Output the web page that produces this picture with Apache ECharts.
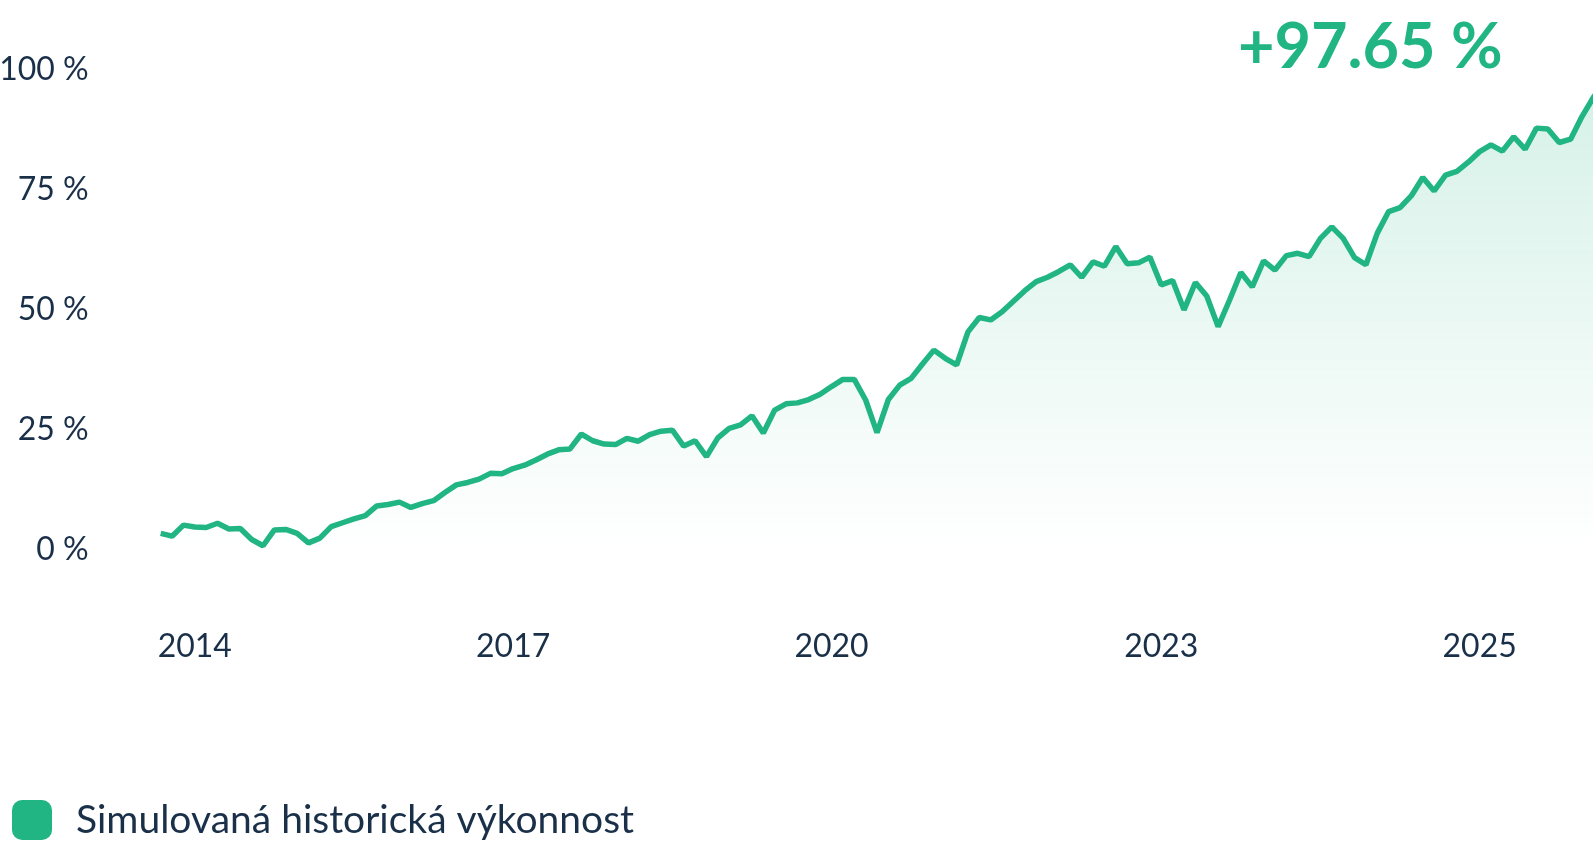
<!DOCTYPE html>
<html><head><meta charset="utf-8">
<script src="https://cdn.jsdelivr.net/npm/echarts@6/dist/echarts.min.js"></script>
<style>html,body{margin:0;padding:0;background:#fff;overflow:hidden}#c{width:1593px;height:843px}</style>
</head><body><div id="c"></div>
<script>
const values = [
  3.4, 2.8, 5.1, 4.7, 4.6, 5.5, 4.3, 4.4, 2.1, 0.8,
  4.1, 4.2, 3.4, 1.4, 2.4, 4.8, 5.6, 6.4, 7.1, 9.1,
  9.4, 9.9, 8.8, 9.6, 10.2, 11.9, 13.5, 14.0, 14.7, 15.9,
  15.8, 16.9, 17.6, 18.7, 19.9, 20.8, 21.0, 24.1, 22.7, 22.0,
  21.9, 23.2, 22.6, 24.0, 24.7, 24.9, 21.6, 22.7, 19.4, 23.3,
  25.3, 26.0, 27.9, 24.3, 29.1, 30.4, 30.6, 31.3, 32.4, 34.0,
  35.5, 35.5, 31.2, 24.4, 31.3, 34.3, 35.7, 38.7, 41.6, 39.9,
  38.5, 45.4, 48.4, 47.9, 49.6, 51.8, 54.0, 55.9, 56.8, 58.0,
  59.4, 56.8, 60.0, 59.1, 63.2, 59.6, 59.8, 61.0, 55.2, 56.1,
  50.0, 55.7, 52.9, 46.5, 52.0, 57.8, 54.8, 60.2, 58.3, 61.3,
  61.8, 61.1, 64.9, 67.3, 64.9, 60.9, 59.4, 66.0, 70.5, 71.3,
  73.8, 77.6, 74.8, 78.1, 78.9, 80.8, 83.0, 84.4, 83.1, 86.1,
  83.5, 87.9, 87.7, 84.9, 85.6, 90.3, 94.3, 97.65
];
const tickIndex = [3, 31, 59, 88, 116];
const tickLabels = ['2014', '2017', '2020', '2023', '2025'];
const seriesName = 'Simulovaná historická výkonnost';
const categories = values.map((v, i) => String(i));

const green = '#22B584';
const ink = '#1a3049';
const font = 'Lato, "Open Sans", sans-serif';

const chart = echarts.init(document.getElementById('c'));
chart.setOption({
  animation: false,
  title: {
    text: '+' + values[values.length - 1].toFixed(2) + ' %',
    left: 1233, top: 11,
    textStyle: { color: green, fontSize: 63, fontWeight: 'bold', fontFamily: font }
  },
  legend: {
    data: [{ name: seriesName, icon: 'roundRect' }],
    left: 7, top: 795, itemWidth: 40, itemHeight: 40,
    textStyle: { fontSize: 39, color: ink, fontFamily: font, padding: [0, 0, 0, 19] }
  },
  grid: { left: 160.7, right: -11.7, top: 70.1, bottom: 293.4, outerBoundsMode: 'none', containLabel: false },
  xAxis: {
    type: 'category', data: categories, boundaryGap: false,
    axisLine: { show: false }, axisTick: { show: false }, splitLine: { show: false },
    axisLabel: {
      interval: (i) => tickIndex.includes(i),
      formatter: (v, i) => tickLabels[tickIndex.indexOf(i)] || '',
      margin: 81, fontSize: 32, color: ink, fontFamily: font
    }
  },
  yAxis: {
    type: 'value', min: 0, max: 100, interval: 25,
    axisLine: { show: false }, axisTick: { show: false }, splitLine: { show: false },
    axisLabel: { formatter: '{value} %', margin: 72, fontSize: 32, color: ink, fontFamily: font }
  },
  series: [{
    name: seriesName, type: 'line', data: values, showSymbol: false,
    lineStyle: { width: 5.5, color: green }, itemStyle: { color: green },
    areaStyle: {
      color: new echarts.graphic.LinearGradient(0, 0, 0, 1, [
        { offset: 0, color: 'rgba(34,181,132,0.27)' },
        { offset: 1, color: 'rgba(34,181,132,0)' }
      ])
    }
  }]
});
</script></body></html>
